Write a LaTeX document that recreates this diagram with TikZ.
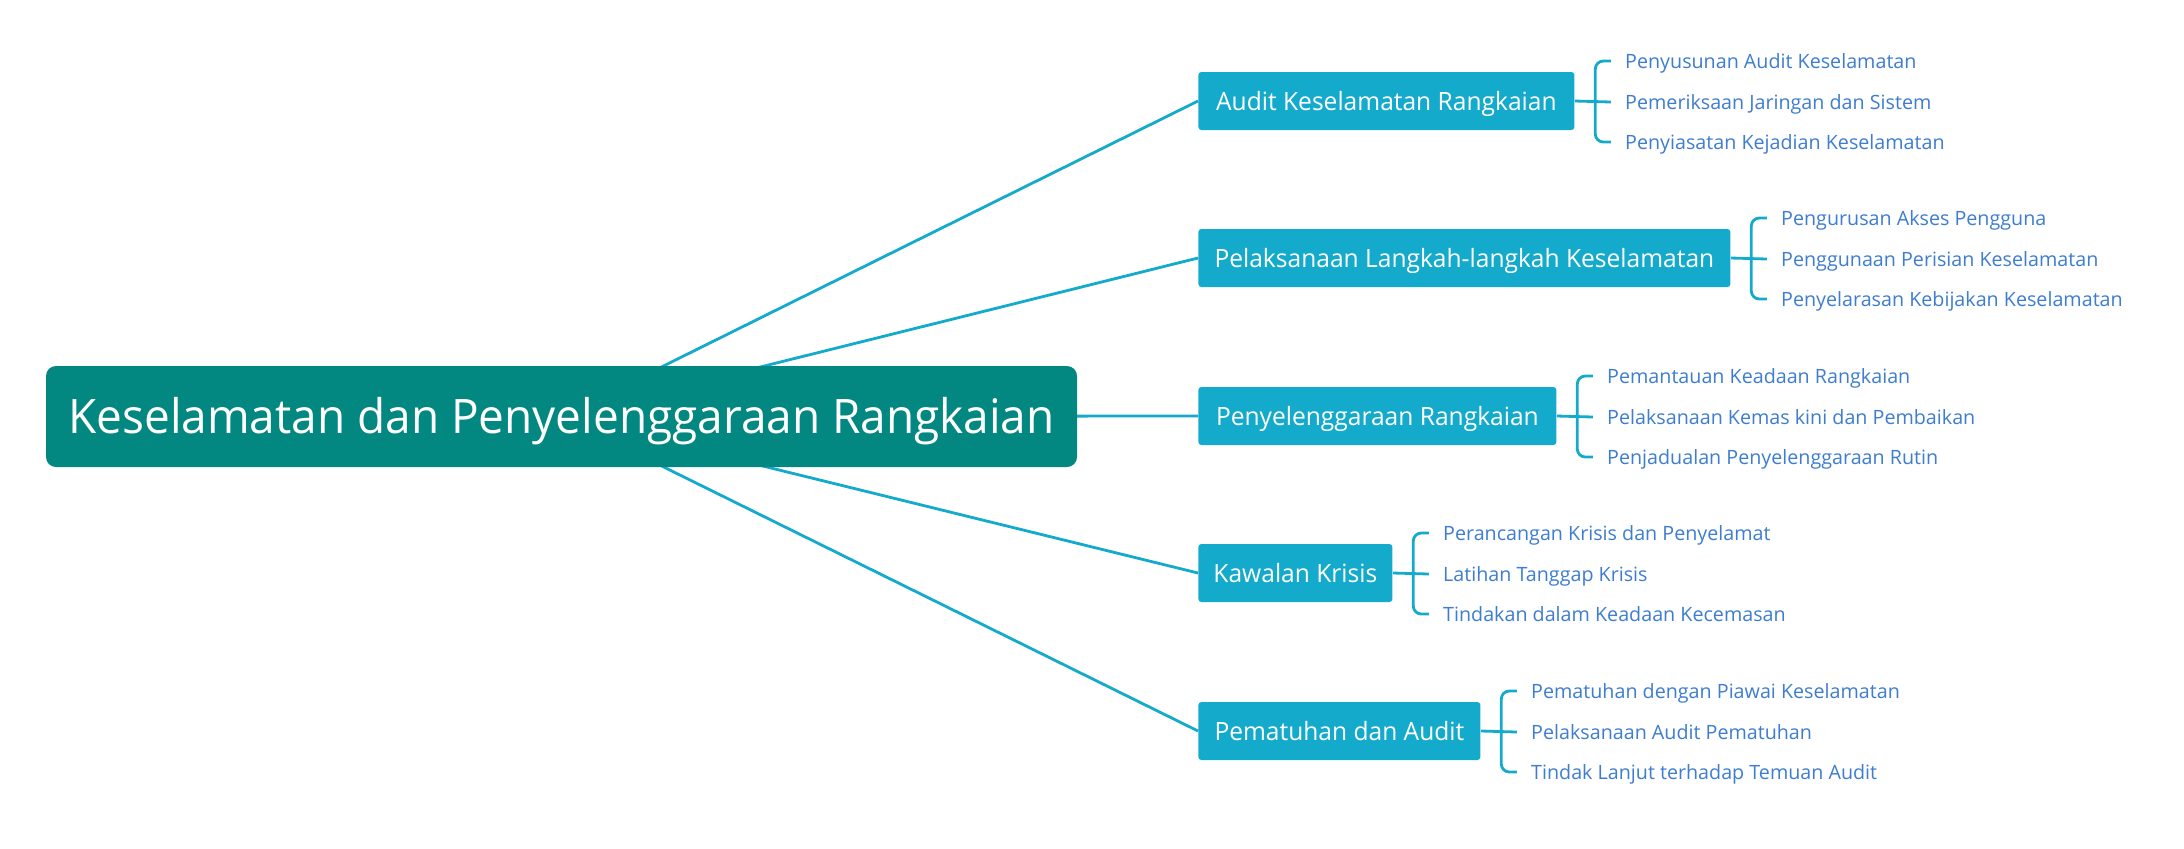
\documentclass[tikz,border=0pt]{standalone}
\usepackage{fontspec}
\setmainfont{Open Sans}
\newfontfamily\rootfont{Open Sans}[FakeStretch=0.965]
\newfontfamily\subfont{Open Sans}[FakeStretch=0.975]
\usetikzlibrary{backgrounds}
\definecolor{rootc}{RGB}{3,135,129}
\definecolor{subc}{RGB}{20,170,204}
\definecolor{leafc}{RGB}{62,125,208}
\begin{document}
\begin{tikzpicture}[x=0.5pt,y=-0.5pt,
 rootbox/.style={fill=rootc, rounded corners=5pt, text=white, font=\rootfont\fontsize{23.8}{28}\selectfont, minimum width=515.5pt, minimum height=50.5pt, text height=17pt, text depth=0pt, inner sep=0pt},
 subbox/.style={fill=subc, rounded corners=1.5pt, text=white, font=\subfont\fontsize{12.6}{15}\selectfont, minimum height=29pt, text height=9pt, text depth=0pt, inner sep=0pt, anchor=west},
 leaf/.style={text=leafc, font=\fontsize{9.85}{12}\selectfont, text height=7pt, text depth=0pt, inner sep=0pt, anchor=west},
 link/.style={draw=subc, line width=1.4pt},
 brace/.style={draw=subc, line width=1.4pt, rounded corners=4pt}]
\useasboundingbox (0,0) rectangle (2184,848);

\node[rootbox] (root) at (561.5,416.5) {Keselamatan dan Penyelenggaraan Rangkaian};
\node[subbox, minimum width=188pt] (a) at (1198,101) {Audit Keselamatan Rangkaian};
\node[subbox, minimum width=266pt] (b) at (1198,258) {Pelaksanaan Langkah-langkah Keselamatan};
\node[subbox, minimum width=179pt] (c) at (1198,416) {Penyelenggaraan Rangkaian};
\node[subbox, minimum width=97pt] (d) at (1198,573) {Kawalan Krisis};
\node[subbox, minimum width=141pt] (e) at (1198,731) {Pematuhan dan Audit};

\begin{pgfonlayer}{background}
\fill[white] (0,0) rectangle (2184,848);
\foreach \n in {a,b,c,d,e}{
  \draw[link] (root.center) -- (\n.west);
}
\end{pgfonlayer}

\foreach \p/\ta/\tb/\tc in {
 a/Penyusunan Audit Keselamatan/Pemeriksaan Jaringan dan Sistem/Penyiasatan Kejadian Keselamatan,
 b/Pengurusan Akses Pengguna/Penggunaan Perisian Keselamatan/Penyelarasan Kebijakan Keselamatan,
 c/Pemantauan Keadaan Rangkaian/Pelaksanaan Kemas kini dan Pembaikan/Penjadualan Penyelenggaraan Rutin,
 d/Perancangan Krisis dan Penyelamat/Latihan Tanggap Krisis/Tindakan dalam Keadaan Kecemasan,
 e/Pematuhan dengan Piawai Keselamatan/Pelaksanaan Audit Pematuhan/Tindak Lanjut terhadap Temuan Audit}{
  \node[leaf] (\p1) at ([xshift=25pt,yshift=20pt]\p.east) {\ta};
  \node[leaf] (\p2) at ([xshift=25pt,yshift=-0.5pt]\p.east) {\tb};
  \node[leaf] (\p3) at ([xshift=25pt,yshift=-20.5pt]\p.east) {\tc};
  \draw[brace] ([xshift=-7pt]\p1.west) -| ([xshift=10.25pt]\p.east) |- ([xshift=-7pt]\p3.west);
  \draw[link] (\p.east) -- ([xshift=-7pt]\p2.west);
}
\end{tikzpicture}
\end{document}
